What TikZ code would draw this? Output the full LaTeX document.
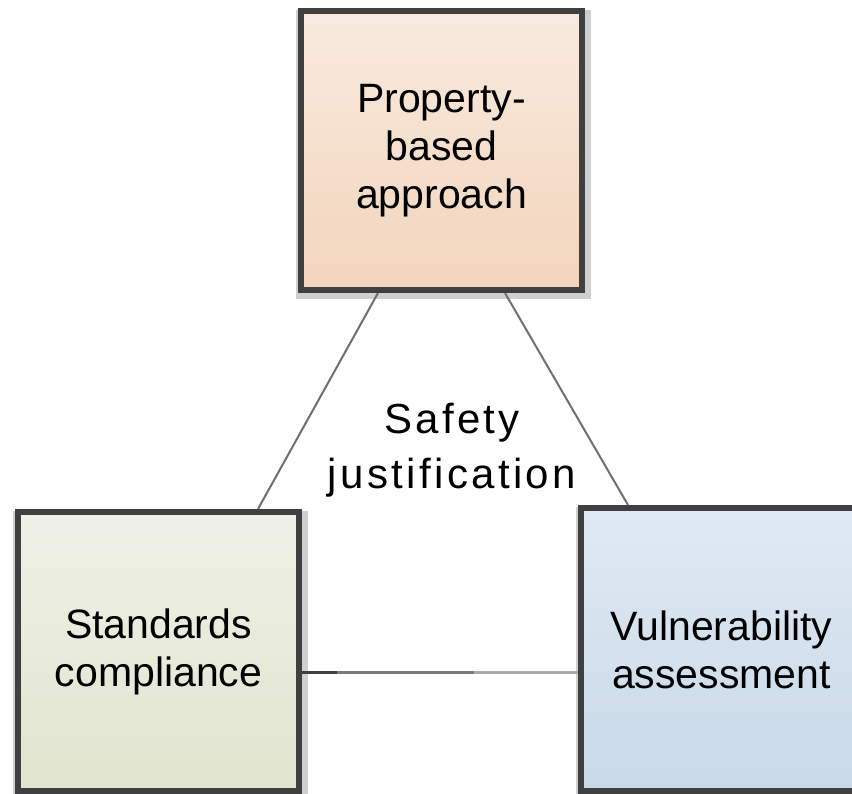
\documentclass[tikz,border=0pt]{standalone}
\usepackage{fontspec}
\setmainfont{Liberation Sans}
\newfontfamily\midfont[LetterSpace=8]{Liberation Sans}
\usetikzlibrary{calc,backgrounds}
\definecolor{bordc}{HTML}{404040}
\definecolor{linec}{HTML}{707070}
\definecolor{shadc}{HTML}{CFCFCF}
\definecolor{pTop}{HTML}{F8EADF}
\definecolor{pBot}{HTML}{F2D5BB}
\definecolor{sTop}{HTML}{EFF1E7}
\definecolor{sBot}{HTML}{E1E4CE}
\definecolor{vTop}{HTML}{E0E9F3}
\definecolor{vBot}{HTML}{C8D9E8}
\tikzset{
  boxnode/.style={draw=bordc, line width=6pt, rectangle, align=center,
    inner sep=0pt, minimum width=281pt, minimum height=279pt,
    font=\fontsize{41}{48}\selectfont},
  conn/.style={draw=linec, line width=2pt},
  shadowbox/.style={fill=shadc},
}
\begin{document}
\begin{tikzpicture}[x=1pt,y=-1pt]
\useasboundingbox (0,0) rectangle (852,794);
\clip (0,0) rectangle (852,794);
\node[boxnode, top color=pTop, bottom color=pBot] (pb) at (441.5,150.5) {Property-\\based\\approach};
\node[boxnode, top color=sTop, bottom color=sBot] (sc) at (158.5,651.5) {Standards\\compliance};
\node[boxnode, top color=vTop, bottom color=vBot, minimum height=283pt] (va) at (721.5,649.5) {Vulnerability\\assessment};
\node[align=center, font=\midfont\fontsize{42}{55}\selectfont] (sj) at (452,450) {Safety\\justification};
\begin{scope}[on background layer]
  \fill[white] (0,0) rectangle (852,794);
  \foreach \b in {pb,sc,va}{
    \fill[shadowbox] ([shift={(-2pt,-2pt)}]\b.north west) rectangle ([shift={(6pt,-6pt)}]\b.south east);
  }
  \draw[conn] ([xshift=-63.5pt]pb.south) -- ([xshift=99.5pt]sc.north);
  \draw[conn] ([xshift=63.5pt]pb.south) -- ([xshift=-93.5pt]va.north);
  \coordinate (h1) at ([yshift=-20.5pt]sc.east);
  \coordinate (h2) at (h1 -| va.west);
  \coordinate (h3) at ($(h1)!0.128!(h2)$);
  \coordinate (h4) at ($(h1)!0.624!(h2)$);
  \draw[line width=3pt, draw=bordc] (h1) -- (h3);
  \draw[line width=3pt, draw=black!52] (h3) -- (h4);
  \draw[line width=3pt, draw=black!33] (h4) -- (h2);
\end{scope}
\end{tikzpicture}
\end{document}
